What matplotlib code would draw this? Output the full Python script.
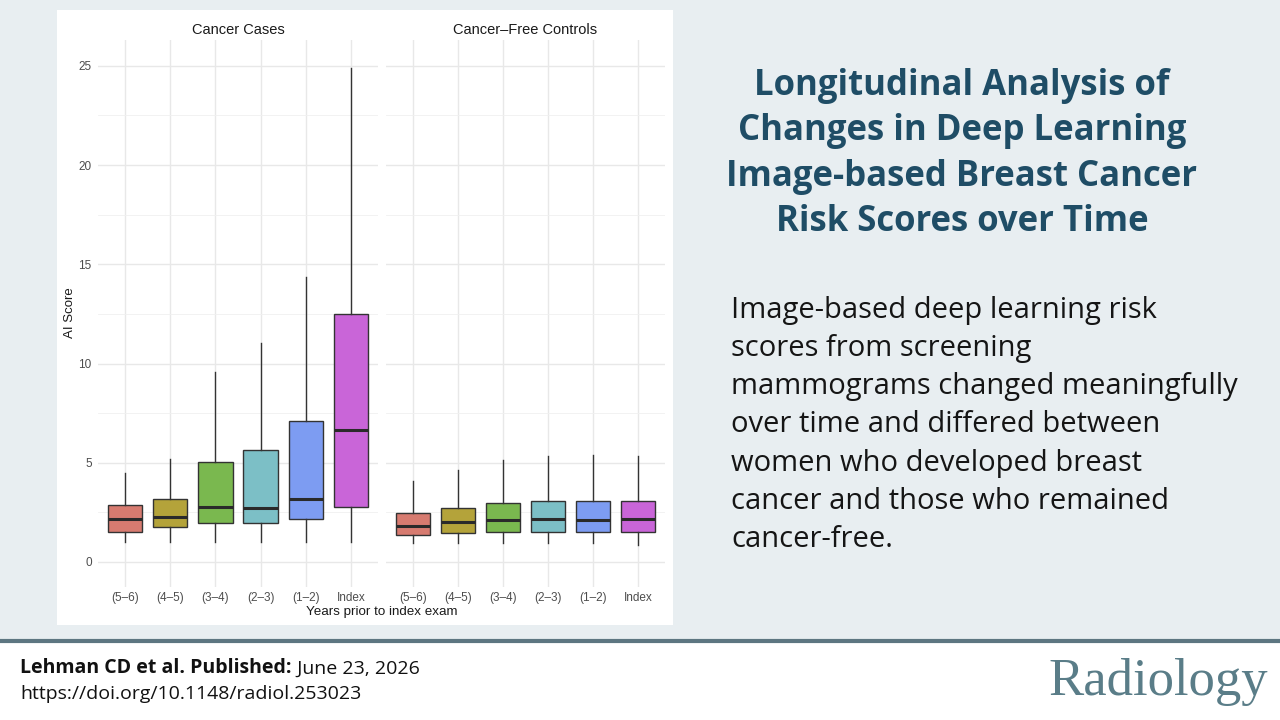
import matplotlib.pyplot as plt
from matplotlib.patches import Rectangle

# 数据：各时间段 AI 评分箱线图的统计量
periods = ['(5\u20136)', '(4\u20135)', '(3\u20134)', '(2\u20133)', '(1\u20132)', 'Index']
colors = ['#d77b70', '#b4a33a', '#7ab84f', '#7cbfc6', '#7d9cf2', '#c965d8']

cases_low = [1.02, 1.02, 1.02, 1.0, 1.0, 1.0]
cases_q1 = [1.53, 1.75, 1.98, 1.95, 2.15, 2.76]
cases_med = [2.15, 2.28, 2.77, 2.72, 3.18, 6.65]
cases_q3 = [2.86, 3.16, 5.04, 5.65, 7.1, 12.5]
cases_high = [4.5, 5.18, 9.58, 11.04, 14.36, 24.9]

ctrl_low = [0.97, 0.97, 0.97, 0.97, 0.97, 0.86]
ctrl_q1 = [1.35, 1.45, 1.51, 1.53, 1.53, 1.53]
ctrl_med = [1.83, 2.0, 2.12, 2.15, 2.12, 2.17]
ctrl_q3 = [2.47, 2.74, 2.99, 3.07, 3.07, 3.07]
ctrl_high = [4.07, 4.64, 5.14, 5.36, 5.39, 5.34]

W, H = 1280, 720
fig = plt.figure(figsize=(12.8, 7.2), dpi=100)
fig.patch.set_facecolor('#e8eef1')

# 背景层：白色图表面板和底部白色页脚
bg = fig.add_axes([0, 0, 1, 1])
bg.set_xlim(0, W)
bg.set_ylim(H, 0)
bg.axis('off')
bg.add_patch(Rectangle((57, 10), 616, 615, facecolor='white', edgecolor='none'))
bg.add_patch(Rectangle((0, 642), W, 78, facecolor='white', edgecolor='none'))
bg.plot([0, W], [641, 641], color='#5d7681', lw=3)

sans = ['Liberation Sans', 'DejaVu Sans']
ui = ['Open Sans', 'DejaVu Sans']


def facet(x0, x1, title, low, q1, med, q3, high, show_y):
    ax = fig.add_axes([x0 / W, 1 - 587 / H, (x1 - x0) / W, (587 - 40) / H])
    ax.set_facecolor('white')
    stats = []
    for i in range(len(periods)):
        stats.append({'whislo': low[i], 'q1': q1[i], 'med': med[i],
                      'q3': q3[i], 'whishi': high[i], 'fliers': []})
    bp = ax.bxp(stats, positions=range(len(periods)), widths=0.76,
                patch_artist=True, showcaps=False,
                boxprops=dict(edgecolor='#333333', linewidth=1.0),
                medianprops=dict(color='#2a2a2a', linewidth=2.2),
                whiskerprops=dict(color='#333333', linewidth=1.0),
                zorder=3)
    for patch, c in zip(bp['boxes'], colors):
        patch.set_facecolor(c)
    ax.set_xlim(-0.6, 5.6)
    ax.set_ylim(-1.26, 26.3)
    ax.set_yticks([0, 5, 10, 15, 20, 25])
    ax.set_yticks([2.5, 7.5, 12.5, 17.5, 22.5], minor=True)
    ax.set_xticks(range(len(periods)))
    ax.set_xticklabels(periods, fontsize=8.5, color='#4d4d4d', family=sans)
    ax.tick_params(length=0, pad=3.5)
    ax.tick_params(axis='y', which='minor', length=0)
    if show_y:
        ax.set_yticklabels(['0', '5', '10', '15', '20', '25'], fontsize=8.5,
                           color='#4d4d4d', family=sans)
        ax.tick_params(axis='y', pad=4.5)
    else:
        ax.set_yticklabels([])
    ax.grid(True, which='major', color='#e8e8e8', linewidth=1.0, zorder=0)
    ax.grid(True, which='minor', axis='y', color='#f0f0f0', linewidth=0.6, zorder=0)
    ax.set_axisbelow(True)
    for s in ax.spines.values():
        s.set_visible(False)
    ax.set_title(title, fontsize=10.5, color='#1a1a1a', family=sans, pad=4)
    return ax


facet(98, 378, 'Cancer Cases', cases_low, cases_q1, cases_med, cases_q3, cases_high, True)
facet(386, 665, 'Cancer\u2013Free Controls', ctrl_low, ctrl_q1, ctrl_med, ctrl_q3, ctrl_high, False)

bg.text(70, 313, 'AI Score', rotation=90, ha='center', va='center',
        fontsize=9.5, color='#1a1a1a', family=sans)
bg.text(382, 612, 'Years prior to index exam', ha='center', va='center',
        fontsize=9.6, color='#1a1a1a', family=sans)

# 右侧标题与说明文字
title = ('Longitudinal Analysis of\nChanges in Deep Learning\n'
         'Image-based Breast Cancer\nRisk Scores over Time')
bg.text(962, 154, title, ha='center', va='center', fontsize=25, fontweight='bold',
        color='#1f4d66', family=ui, linespacing=1.35)

body = ('Image-based deep learning risk\nscores from screening\n'
        'mammograms changed meaningfully\nover time and differed between\n'
        'women who developed breast\ncancer and those who remained\ncancer-free.')
bg.text(731, 425, body, ha='left', va='center', fontsize=21,
        color='#151515', family=ui, linespacing=1.42)

# 页脚
t1 = bg.text(20, 673, 'Lehman CD et al. Published:', ha='left', va='baseline',
             fontsize=14, fontweight='bold', color='#111111', family=ui)
bg.annotate(' June 23, 2026', xy=(1, 0), xycoords=t1, xytext=(0, 0),
            textcoords='offset points', ha='left', va='bottom', fontsize=14,
            color='#111111', family=ui)
bg.text(20, 699, 'https://doi.org/10.1148/radiol.253023', ha='left', va='baseline',
        fontsize=14, color='#111111', family=ui)

bg.text(1158, 682, 'Radiology', ha='center', va='center', fontsize=38,
        color='#5a7d88', family=['Liberation Serif', 'DejaVu Serif'])

fig.savefig('out.png', dpi=100, facecolor=fig.get_facecolor())
